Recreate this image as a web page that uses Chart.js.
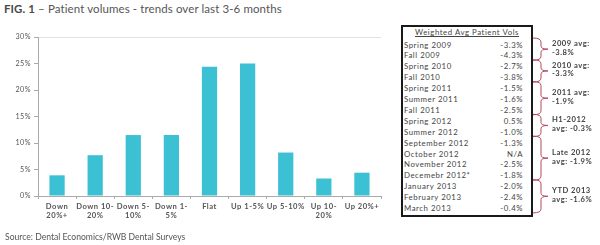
<!DOCTYPE html>
<html><head><meta charset="utf-8">
<script src="https://cdn.jsdelivr.net/npm/chart.js@4.4.1/dist/chart.umd.min.js"></script>
<style>
html,body{margin:0;padding:0;background:#fff;width:600px;height:245px;overflow:hidden;font-family:Lato,"Open Sans",sans-serif;}
#title{position:absolute;left:4px;top:2px;font-size:11.5px;color:#555;white-space:nowrap;letter-spacing:0.1px}
#title b{color:#4a4a4a}
#source{position:absolute;left:5px;top:232px;font-size:8.6px;color:#555;white-space:nowrap}
#wrap{position:absolute;left:0;top:0;width:390px;height:225px}
#box{position:absolute;left:401px;top:25px;width:128px;height:188px;border:2px solid #1a1a1a;}
.row{position:absolute;left:1px;right:8px;height:10.9px;line-height:10.9px;font-size:7.8px;color:#444;letter-spacing:0.55px;white-space:nowrap}
.row .v{position:absolute;right:0;top:0}
.hdr{position:absolute;left:0;right:0;top:0;height:11px;line-height:11px;text-align:center;font-size:7.8px;color:#444;letter-spacing:0.55px;text-decoration:underline}
.glab{position:absolute;left:552px;font-size:7.6px;font-weight:bold;color:#444;letter-spacing:0.5px;line-height:8.5px;white-space:nowrap}
svg{position:absolute;left:0;top:0}
</style></head>
<body>
<div id="title"><b>FIG. 1</b> – Patient volumes - trends over last 3-6 months</div>
<div id="wrap"><canvas id="c"></canvas></div>
<div id="box"></div>
<svg id="br" width="600" height="245"></svg>
<div id="source">Source: Dental Economics/RWB Dental Surveys</div>
<script>
const categories = [["Down","20%+"],["Down 10-","20%"],["Down 5-","10%"],["Down 1-","5%"],"Flat","Up 1-5%","Up 5-10%",["Up 10-","20%"],"Up 20%+"];
const shares = [3.9, 7.7, 11.5, 11.5, 24.4, 25.0, 8.2, 3.3, 4.4];
const yTicks = [0, 5, 10, 15, 20, 25, 30];

const periods = ["Spring 2009","Fall 2009","Spring 2010","Fall 2010","Spring 2011","Summer 2011","Fall 2011","Spring 2012","Summer 2012","September 2012","October 2012","November 2012","Decemebr 2012*","January 2013","February 2013","March 2013"];
const periodVols = ["-3.3%","-4.3%","-2.7%","-3.8%","-1.5%","-1.6%","-2.5%","0.5%","-1.0%","-1.3%","N/A","-2.5%","-1.8%","-2.0%","-2.4%","-0.4%"];
const groupStart = [0, 2, 4, 7, 9, 13];
const groupEnd = [1, 3, 6, 8, 12, 15];
const groupLabels = [["2009 avg:","-3.8%"],["2010 avg:","-3.3%"],["2011 avg:","-1.9%"],["H1-2012","avg: -0.3%"],["Late 2012","avg: -1.9%"],["YTD 2013","avg: -1.6%"]];

// table
const box = document.getElementById('box');
const hdr = document.createElement('div'); hdr.className='hdr'; hdr.textContent='Weighted Avg Patient Vols'; box.appendChild(hdr);
const ROW0 = 12.5, RH = 10.9;
periods.forEach((p,i)=>{
  const r=document.createElement('div'); r.className='row'; r.style.top=(ROW0+RH*i)+'px';
  r.textContent=p; const v=document.createElement('span'); v.className='v'; v.textContent=periodVols[i]; r.appendChild(v); box.appendChild(r);
});
// braces
const svg=document.getElementById('br');
const boxTop=27;
let paths='';
groupStart.forEach((s,g)=>{
  const y0=boxTop+ROW0+RH*s-1.5, y1=boxTop+ROW0+RH*(groupEnd[g]+1)-1, ym=(y0+y1)/2;
  const xl=533, xv=541, xt=548;
  paths+=`<path d="M${xl} ${y0} Q${xv} ${y0} ${xv} ${y0+4} L${xv} ${ym-3} Q${xv} ${ym} ${xt} ${ym} Q${xv} ${ym} ${xv} ${ym+3} L${xv} ${y1-4} Q${xv} ${y1} ${xl} ${y1}" fill="none" stroke="#b5485f" stroke-width="1"/>`;
  const d=document.createElement('div'); d.className='glab'; d.style.top=(ym-10)+'px';
  d.innerHTML=groupLabels[g].join('<br>'); document.body.appendChild(d);
});
svg.innerHTML=paths;

const spacing={id:'sp',beforeDraw(c){c.ctx.letterSpacing='0.5px';}};
new Chart(document.getElementById('c'),{
  type:'bar',
  data:{labels:categories,datasets:[{data:shares,backgroundColor:'#3cc0d4',barPercentage:0.4,categoryPercentage:1}]},
  options:{
    responsive:true,maintainAspectRatio:false,animation:false,
    layout:{padding:{top:37,right:9,left:0,bottom:0}},
    plugins:{legend:{display:false},tooltip:{enabled:false}},
    scales:{
      x:{
        afterFit(s){s.height=29;},
        grid:{color:(ctx)=>ctx.index===categories.length?'#e2e2e2':'transparent',tickColor:'#aaa',tickLength:3,drawOnChartArea:true},
        border:{color:'#aaa'},
        ticks:{color:'#555',font:{family:'Lato',size:7.6,weight:'bold'},padding:3,maxRotation:0,autoSkip:false}
      },
      y:{
        min:0,max:30,
        afterFit(s){s.width=38;},
        afterBuildTicks(s){s.ticks=yTicks.map(v=>({value:v}));},
        grid:{color:(ctx)=>ctx.tick&&ctx.tick.value===30?'#e2e2e2':'transparent',tickColor:'#aaa',tickLength:4},
        border:{color:'#aaa'},
        ticks:{color:'#555',font:{family:'Lato',size:7.2},padding:3,callback:v=>v+'%'}
      }
    }
  },
  plugins:[spacing]
});
</script>
</body></html>
